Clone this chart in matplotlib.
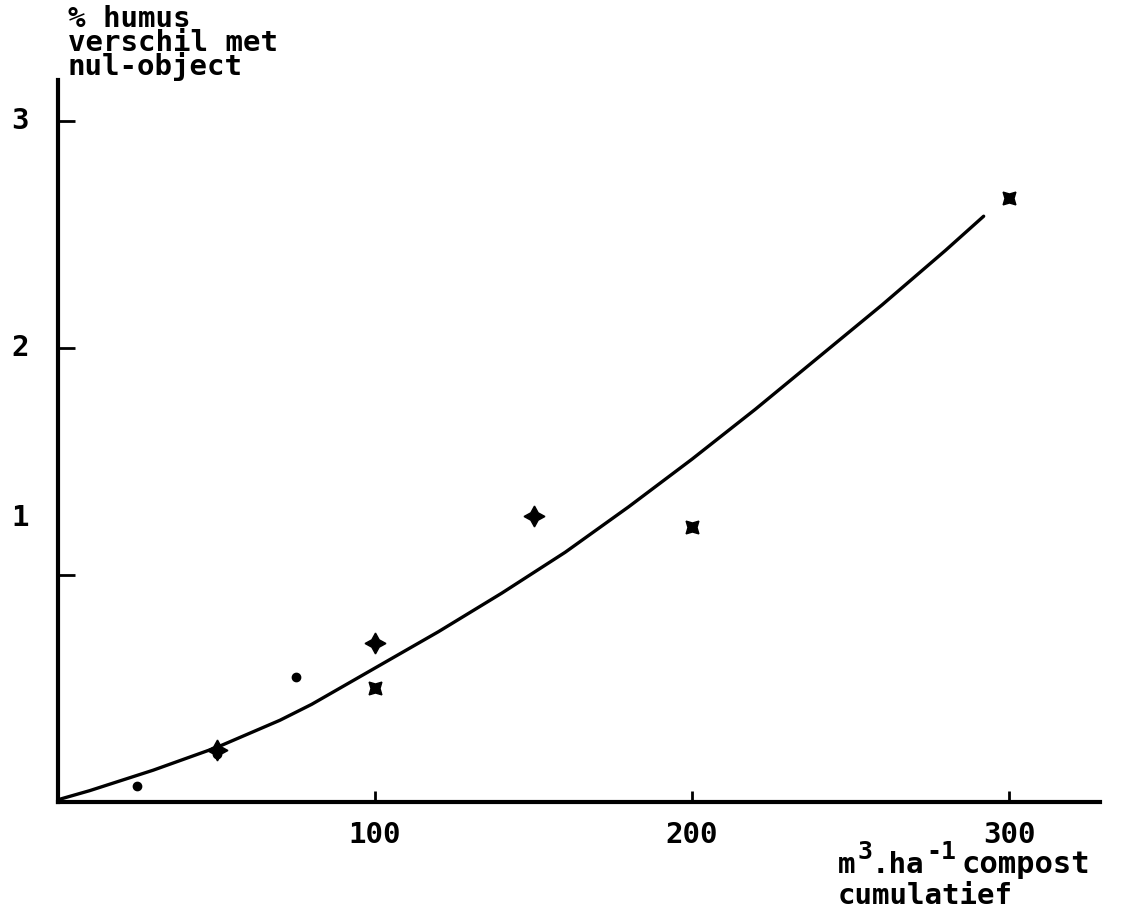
import matplotlib
matplotlib.use('Agg')
import matplotlib.pyplot as plt
from matplotlib.transforms import blended_transform_factory

# ---- data ----
# dots: 25 m3/ha per year, plus: 50 per year, cross: 100 per year
dot_x = [25, 50, 75]
dot_y = [0.07, 0.21, 0.55]
plus_x = [50, 100, 150]
plus_y = [0.23, 0.70, 1.26]
cross_x = [100, 200, 300]
cross_y = [0.50, 1.21, 2.66]

# hand-drawn fitted curve, read at regular steps
curve_x = [0, 10, 20, 30, 40, 50, 60, 70, 80, 90, 100, 110, 120, 130, 140, 150,
           160, 170, 180, 190, 200, 210, 220, 230, 240, 250, 260, 270, 280, 292]
curve_y = [0.01, 0.05, 0.095, 0.14, 0.19, 0.24, 0.30, 0.36, 0.43, 0.51,
           0.59, 0.67, 0.75, 0.835, 0.92, 1.01, 1.10, 1.20, 1.30, 1.405,
           1.51, 1.62, 1.73, 1.845, 1.96, 2.075, 2.19, 2.31, 2.43, 2.58]

xticks = [100, 200, 300]
yticks = [1, 2, 3]
ytick_labels = ['1', '2', '3']
ytick_label_pos = [1.25, 2.0, 3.0]   # the typed "1" sits above its tick

plt.rcParams['font.family'] = 'DejaVu Sans Mono'
plt.rcParams['font.weight'] = 'bold'

fig = plt.figure(figsize=(11.32, 9.08), dpi=100)
ax = fig.add_axes([58/1132, 106/908, 1042/1132, 722/908])
ax.set_xlim(0, 328.7)
ax.set_ylim(0, 3.18)

ax.plot(curve_x, curve_y, 'k-', lw=2.4, solid_capstyle='round')
ax.plot(dot_x, dot_y, 'o', color='k', ms=6, ls='none')
ax.plot(plus_x, plus_y, marker=(4, 1, 0), color='k', ms=15, ls='none')
ax.plot(cross_x, cross_y, marker=(4, 1, 45), color='k', ms=13, ls='none')

for s in ['top', 'right']:
    ax.spines[s].set_visible(False)
for s in ['left', 'bottom']:
    ax.spines[s].set_linewidth(3)

ax.set_xticks(xticks)
ax.set_xticklabels([str(v) for v in xticks], fontsize=21)
ax.set_yticks(yticks)
ax.set_yticklabels([])
ax.tick_params(axis='x', direction='in', length=8, width=2, pad=14)
ax.tick_params(axis='y', direction='in', length=12, width=2)

tr = blended_transform_factory(fig.transFigure, ax.transData)
for lab, yp in zip(ytick_labels, ytick_label_pos):
    fig.text(20/1132, yp, lab, transform=tr, fontsize=21,
             ha='center', va='center')

fig.text(68/1132, 1 - 5/908, '% humus\nverschil met\nnul-object',
         fontsize=21, ha='left', va='top', linespacing=0.8)

# x-axis caption, typed with full-height raised exponents
fig.text(838/1132, 1 - 873/908, 'm', fontsize=21, ha='left', va='baseline')
fig.text(858/1132, 1 - 859/908, '3', fontsize=18, ha='left', va='baseline')
fig.text(872/1132, 1 - 873/908, '.ha', fontsize=21, ha='left', va='baseline')
fig.text(926/1132, 1 - 859/908, '-1', fontsize=18, ha='left', va='baseline')
fig.text(962/1132, 1 - 873/908, 'compost', fontsize=22, ha='left', va='baseline')
fig.text(838/1132, 1 - 904/908, 'cumulatief', fontsize=21, ha='left', va='baseline')

fig.savefig('out.png', dpi=100)
